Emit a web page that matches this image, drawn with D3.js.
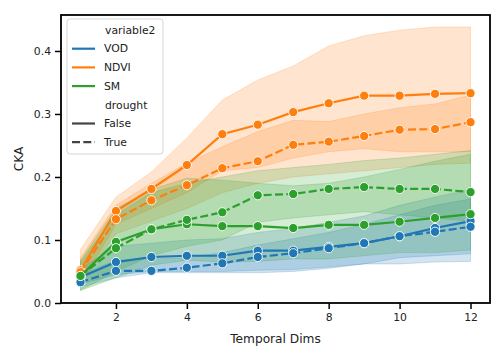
<!DOCTYPE html>
<html><head><meta charset="utf-8">
<script src="https://cdn.jsdelivr.net/npm/d3@7"></script>
<style>body{margin:0;background:#fff}svg{font-family:"DejaVu Sans",sans-serif}</style>
</head><body><svg id="c" width="504" height="360"></svg>
<script>
const dims = [1,2,3,4,5,6,7,8,9,10,11,12];
const variables = ["VOD","NDVI","SM"];
const colors = {VOD:"#1f77b4", NDVI:"#ff7f0e", SM:"#2ca02c"};
const xTicks = [2,4,6,8,10,12];
const yTicks = [0.0,0.1,0.2,0.3,0.4];

// mean values
const vodFalse  = [0.041,0.065,0.073,0.075,0.075,0.083,0.083,0.089,0.095,0.106,0.119,0.130];
const vodTrue   = [0.033,0.051,0.051,0.056,0.063,0.073,0.079,0.087,0.095,0.106,0.113,0.121];
const ndviFalse = [0.052,0.146,0.181,0.219,0.268,0.283,0.303,0.317,0.329,0.329,0.332,0.333];
const ndviTrue  = [0.049,0.133,0.163,0.187,0.214,0.225,0.251,0.256,0.265,0.275,0.276,0.287];
const smFalse   = [0.043,0.097,0.117,0.125,0.122,0.122,0.119,0.124,0.124,0.129,0.135,0.141];
const smTrue    = [0.043,0.087,0.117,0.132,0.144,0.171,0.173,0.181,0.184,0.181,0.181,0.176];

// confidence bands
const vodFalseLo  = [0.030,0.045,0.050,0.050,0.050,0.052,0.053,0.057,0.062,0.072,0.075,0.078];
const vodFalseHi  = [0.055,0.090,0.095,0.100,0.102,0.112,0.118,0.128,0.138,0.155,0.168,0.180];
const vodTrueLo   = [0.025,0.040,0.048,0.048,0.048,0.048,0.050,0.055,0.062,0.062,0.065,0.066];
const vodTrueHi   = [0.045,0.068,0.070,0.072,0.080,0.092,0.102,0.112,0.125,0.140,0.155,0.165];
const ndviFalseLo = [0.030,0.125,0.150,0.175,0.210,0.215,0.230,0.240,0.245,0.240,0.240,0.240];
const ndviFalseHi = [0.085,0.168,0.208,0.262,0.322,0.354,0.376,0.408,0.424,0.433,0.438,0.438];
const ndviTrueLo  = [0.030,0.110,0.130,0.150,0.175,0.190,0.200,0.205,0.210,0.215,0.220,0.222];
const ndviTrueHi  = [0.072,0.155,0.190,0.222,0.248,0.272,0.290,0.288,0.300,0.310,0.316,0.330];
const smFalseLo   = [0.020,0.040,0.060,0.068,0.065,0.066,0.070,0.070,0.075,0.080,0.080,0.084];
const smFalseHi   = [0.068,0.150,0.180,0.198,0.195,0.190,0.186,0.190,0.200,0.212,0.225,0.236];
const smTrueLo    = [0.020,0.050,0.075,0.090,0.100,0.128,0.135,0.140,0.145,0.140,0.135,0.130];
const smTrueHi    = [0.065,0.140,0.175,0.190,0.200,0.210,0.215,0.220,0.226,0.230,0.236,0.242];

const series = [
  {v:"VOD", drought:false, mean:vodFalse, lo:vodFalseLo, hi:vodFalseHi},
  {v:"VOD", drought:true,  mean:vodTrue,  lo:vodTrueLo,  hi:vodTrueHi},
  {v:"NDVI",drought:false, mean:ndviFalse,lo:ndviFalseLo,hi:ndviFalseHi},
  {v:"NDVI",drought:true,  mean:ndviTrue, lo:ndviTrueLo, hi:ndviTrueHi},
  {v:"SM",  drought:false, mean:smFalse,  lo:smFalseLo,  hi:smFalseHi},
  {v:"SM",  drought:true,  mean:smTrue,   lo:smTrueLo,   hi:smTrueHi}
];

const L=61, R=490, T=15, B=303;
const svg = d3.select("#c");
const x = d3.scaleLinear().domain([0.45,12.55]).range([L,R]);
const y = d3.scaleLinear().domain([0,0.4571]).range([B,T]);

const gBands = svg.append("g");
series.forEach(s=>{
  const area = d3.area().x((d,i)=>x(dims[i])).y0((d,i)=>y(s.lo[i])).y1((d,i)=>y(s.hi[i]));
  gBands.append("path").attr("d",area(dims)).attr("fill",colors[s.v]).attr("fill-opacity",0.2)
    .attr("stroke",colors[s.v]).attr("stroke-opacity",0.2).attr("stroke-width",1);
});
const gLines = svg.append("g");
series.forEach(s=>{
  const line = d3.line().x((d,i)=>x(dims[i])).y((d,i)=>y(s.mean[i]));
  gLines.append("path").attr("d",line(dims)).attr("fill","none").attr("stroke",colors[s.v])
    .attr("stroke-width",2.2).attr("stroke-dasharray", s.drought ? "8,3.3" : null);
  gLines.selectAll(null).data(s.mean).enter().append("circle")
    .attr("cx",(d,i)=>x(dims[i])).attr("cy",d=>y(d)).attr("r",4.6)
    .attr("fill",colors[s.v]).attr("stroke","#fff").attr("stroke-width",0.9);
});

// axes
const xAxis = svg.append("g").attr("transform",`translate(0,${B})`)
  .call(d3.axisBottom(x).tickValues(xTicks).tickFormat(d3.format("d")).tickSize(6).tickPadding(4));
const yAxis = svg.append("g").attr("transform",`translate(${L},0)`)
  .call(d3.axisLeft(y).tickValues(yTicks).tickFormat(d3.format(".1f")).tickSize(6).tickPadding(4));
[xAxis,yAxis].forEach(a=>{
  a.select(".domain").remove();
  a.selectAll(".tick line").attr("stroke","#000").attr("stroke-width",1.5);
  a.selectAll(".tick text").attr("fill","#222").style("font-size","10.8px").style("font-family","DejaVu Sans");
});
svg.append("rect").attr("x",L).attr("y",T).attr("width",R-L).attr("height",B-T)
  .attr("fill","none").attr("stroke","#000").attr("stroke-width",1.8);

svg.append("text").attr("x",(L+R)/2).attr("y",343).attr("text-anchor","middle")
  .style("font-size","12.2px").attr("fill","#222").text("Temporal Dims");
svg.append("text").attr("transform",`translate(23,${(T+B)/2}) rotate(-90)`).attr("text-anchor","middle")
  .style("font-size","12.2px").attr("fill","#222").text("CKA");

// legend
const lg = svg.append("g");
lg.append("rect").attr("x",67).attr("y",19).attr("width",96).attr("height",135).attr("rx",3)
  .attr("fill","#fff").attr("fill-opacity",0.8).attr("stroke","#d6d6d6").attr("stroke-width",1);
const items = [
  {label:"variable2", color:null},
  {label:"VOD", color:colors.VOD},
  {label:"NDVI", color:colors.NDVI},
  {label:"SM", color:colors.SM},
  {label:"drought", color:null},
  {label:"False", color:"#444", dash:null},
  {label:"True", color:"#444", dash:"8,3.3"}
];
items.forEach((it,i)=>{
  const cy = 30 + i*18.7;
  if(it.color){
    lg.append("line").attr("x1",72).attr("x2",95).attr("y1",cy).attr("y2",cy)
      .attr("stroke",it.color).attr("stroke-width",2.2).attr("stroke-dasharray",it.dash||null);
  }
  lg.append("text").attr("x",it.color?104:105).attr("y",cy).attr("dy","0.35em")
    .style("font-size","10.8px").attr("fill","#222").text(it.label);
});
</script></body></html>
